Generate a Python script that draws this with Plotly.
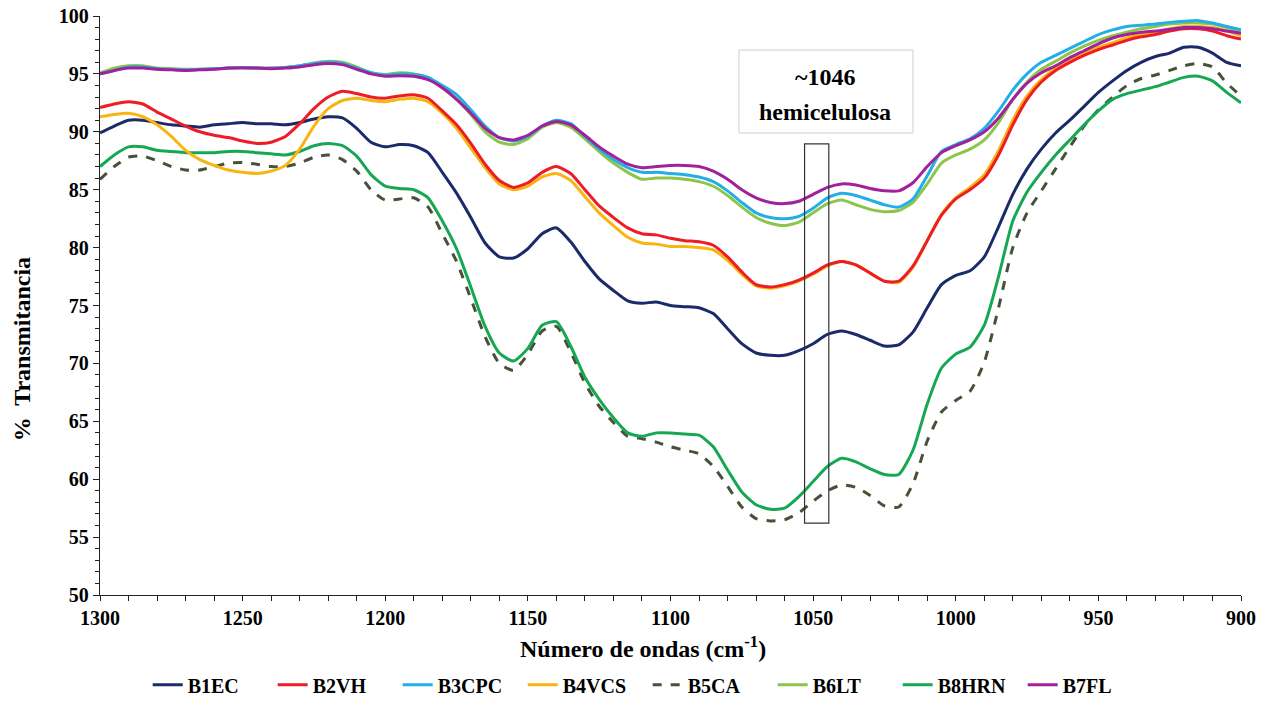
import plotly.graph_objects as go

wavenumber = list(range(1300, 895, -5))

B1EC = [89.9, 90.5, 91.0, 91.0, 90.8, 90.6, 90.5, 90.4, 90.6, 90.7, 90.8, 90.7, 90.7, 90.6, 90.8, 91.1, 91.3, 91.2, 90.3, 89.1,
        88.7, 88.9, 88.8, 88.2, 86.5, 84.7, 82.6, 80.4, 79.2, 79.1, 79.9, 81.2, 81.7, 80.5, 78.8, 77.3, 76.3, 75.4, 75.2, 75.3,
        75.0, 74.9, 74.8, 74.3, 73.0, 71.7, 70.9, 70.7, 70.7, 71.1, 71.7, 72.5, 72.8, 72.5, 72.0, 71.5, 71.6, 72.7, 74.8, 76.8,
        77.6, 78.0, 79.2, 81.8, 84.6, 86.8, 88.5, 89.9, 91.0, 92.2, 93.4, 94.4, 95.3, 96.0, 96.5, 96.8, 97.3, 97.3, 96.8, 96.0, 95.7]
B2VH = [92.1, 92.4, 92.6, 92.4, 91.7, 91.1, 90.5, 90.0, 89.7, 89.5, 89.2, 89.0, 89.1, 89.6, 90.7, 92.0, 93.0, 93.5, 93.3, 93.0,
        92.9, 93.1, 93.2, 92.9, 91.8, 90.6, 89.0, 87.2, 85.8, 85.2, 85.6, 86.5, 87.0, 86.4, 85.0, 83.6, 82.6, 81.7, 81.2, 81.1,
        80.8, 80.6, 80.5, 80.2, 79.2, 77.9, 76.8, 76.6, 76.8, 77.2, 77.8, 78.5, 78.8, 78.5, 77.8, 77.1, 77.1, 78.4, 80.6, 82.8,
        84.2, 85.0, 86.0, 88.0, 90.6, 92.8, 94.3, 95.3, 96.0, 96.6, 97.1, 97.5, 97.9, 98.2, 98.4, 98.7, 98.9, 98.9, 98.7, 98.3, 98.0]
B3CPC = [95.0, 95.3, 95.6, 95.6, 95.45, 95.4, 95.35, 95.4, 95.45, 95.5, 95.55, 95.5, 95.5, 95.55, 95.7, 95.9, 96.0, 95.9, 95.5, 95.1,
         94.9, 95.0, 94.95, 94.7, 94.0, 93.2, 91.9, 90.5, 89.5, 89.2, 89.6, 90.5, 91.0, 90.7, 89.6, 88.5, 87.6, 86.9, 86.5, 86.5,
         86.4, 86.3, 86.1, 85.7, 84.9, 83.9, 83.0, 82.6, 82.5, 82.7, 83.4, 84.3, 84.7, 84.5, 84.1, 83.7, 83.5, 84.2, 86.2, 88.3,
         88.9, 89.4, 90.3, 91.8, 93.6, 95.0, 96.0, 96.6, 97.2, 97.8, 98.4, 98.8, 99.1, 99.2, 99.3, 99.45, 99.55, 99.6, 99.4, 99.1, 98.8]
B4VCS = [91.3, 91.5, 91.6, 91.3, 90.6, 89.6, 88.4, 87.6, 87.1, 86.7, 86.5, 86.4, 86.6, 87.1, 88.5, 90.5, 92.0, 92.7, 92.9, 92.7,
         92.6, 92.8, 92.9, 92.6, 91.6, 90.3, 88.6, 86.9, 85.5, 85.0, 85.3, 86.1, 86.4, 85.8, 84.4, 83.0, 81.9, 80.9, 80.4, 80.3,
         80.1, 80.1, 80.0, 79.8, 78.9, 77.7, 76.7, 76.5, 76.7, 77.1, 77.7, 78.4, 78.8, 78.5, 77.8, 77.1, 77.0, 78.3, 80.6, 82.9,
         84.3, 85.2, 86.3, 88.4, 91.0, 93.1, 94.5, 95.5, 96.2, 96.8, 97.3, 97.7, 98.1, 98.4, 98.6, 98.9, 99.1, 99.1, 99.0, 98.7, 98.3]
B5CA = [85.9, 87.0, 87.8, 87.9, 87.5, 87.0, 86.7, 86.7, 87.0, 87.3, 87.35, 87.2, 87.0, 87.0, 87.3, 87.8, 88.0, 87.6, 86.6, 85.0,
        84.1, 84.2, 84.3, 83.5, 81.2, 78.8, 75.6, 72.3, 70.0, 69.4, 70.8, 72.8, 73.2, 71.0, 68.3, 66.3, 64.9, 63.7, 63.5, 63.2,
        62.8, 62.5, 62.2, 61.1, 59.4, 57.6, 56.6, 56.4, 56.5, 57.1, 58.1, 59.0, 59.5, 59.3, 58.6, 57.7, 57.6, 59.6, 63.3, 65.8,
        66.8, 67.6, 70.1, 74.8, 80.0, 83.0, 84.9, 86.8, 88.7, 90.5, 91.9, 93.0, 94.0, 94.6, 94.9, 95.3, 95.7, 95.9, 95.6, 94.2, 93.1]
B6LT = [95.1, 95.5, 95.7, 95.7, 95.5, 95.45, 95.4, 95.4, 95.45, 95.5, 95.55, 95.5, 95.5, 95.55, 95.7, 95.95, 96.1, 96.0, 95.6, 95.1,
        94.95, 95.1, 95.0, 94.7, 93.8, 92.8, 91.5, 90.0, 89.1, 88.9, 89.4, 90.4, 90.8, 90.4, 89.4, 88.3, 87.3, 86.5, 85.9, 86.0,
        86.0, 85.9, 85.7, 85.3, 84.5, 83.5, 82.6, 82.1, 81.9, 82.2, 83.0, 83.8, 84.1, 83.7, 83.3, 83.1, 83.2, 83.9, 85.5, 87.3,
        88.0, 88.5, 89.3, 90.8, 92.8, 94.3, 95.4, 96.1, 96.8, 97.4, 97.9, 98.3, 98.6, 98.9, 99.1, 99.3, 99.4, 99.4, 99.3, 99.0, 98.6]
B8HRN = [87.0, 88.0, 88.7, 88.7, 88.4, 88.3, 88.2, 88.2, 88.2, 88.3, 88.3, 88.2, 88.1, 88.0, 88.3, 88.8, 89.0, 88.8, 87.9, 86.3,
         85.3, 85.1, 85.0, 84.3, 82.3, 79.9, 76.6, 73.2, 70.9, 70.2, 71.3, 73.3, 73.6, 71.5, 68.8, 66.9, 65.3, 64.0, 63.7, 64.0,
         64.0, 63.9, 63.8, 62.8, 60.8, 58.9, 57.8, 57.4, 57.5, 58.5, 59.8, 61.1, 61.8, 61.5, 60.9, 60.4, 60.4, 62.5, 66.5, 69.6,
         70.8, 71.4, 73.3, 77.5, 82.3, 84.8, 86.5, 88.0, 89.3, 90.6, 91.8, 92.8, 93.3, 93.6, 93.9, 94.3, 94.7, 94.8, 94.4, 93.4, 92.5]
B7FL = [95.0, 95.3, 95.5, 95.5, 95.4, 95.35, 95.3, 95.35, 95.4, 95.5, 95.5, 95.5, 95.45, 95.5, 95.6, 95.8, 95.9, 95.8, 95.4, 95.0,
        94.8, 94.85, 94.8, 94.5, 93.8, 92.8, 91.6, 90.3, 89.5, 89.3, 89.7, 90.5, 90.9, 90.6, 89.7, 88.7, 87.9, 87.2, 86.9, 87.0,
        87.1, 87.1, 87.0, 86.6, 85.9, 85.0, 84.3, 83.9, 83.8, 84.0, 84.6, 85.2, 85.5, 85.4, 85.1, 84.9, 84.9, 85.6, 87.0, 88.2,
        88.8, 89.3, 90.0, 91.2, 92.8, 94.2, 95.1, 95.7, 96.4, 97.0, 97.6, 98.1, 98.4, 98.6, 98.7, 98.85, 99.0, 99.0, 98.9, 98.7, 98.5]

series_names = ["B1EC", "B2VH", "B3CPC", "B4VCS", "B5CA", "B6LT", "B8HRN", "B7FL"]
series_values = [B1EC, B2VH, B3CPC, B4VCS, B5CA, B6LT, B8HRN, B7FL]
series_colors = ["#1b2a68", "#ee1c25", "#22aee6", "#f7b512", "#465238", "#8dc54b", "#16a753", "#a3209c"]
series_dash = ["solid", "solid", "solid", "solid", "dash", "solid", "solid", "solid"]

x_ticks = [1300, 1250, 1200, 1150, 1100, 1050, 1000, 950, 900]
y_ticks = [50, 55, 60, 65, 70, 75, 80, 85, 90, 95, 100]

band_label = "~1046"
band_name = "hemicelulosa"

FONT = "Liberation Serif"
FONT2 = "Times New Roman"

fig = go.Figure()
draw_order = [0, 4, 6, 3, 1, 5, 2, 7]
for i in draw_order:
    fig.add_trace(go.Scatter(
        x=wavenumber, y=series_values[i], name="<b>" + series_names[i] + "</b>", mode="lines",
        line=dict(color=series_colors[i], width=3, dash=series_dash[i], shape="spline", smoothing=0.6),
        legendrank=i + 1,
    ))

fig.update_layout(
    width=1262, height=694,
    paper_bgcolor="white", plot_bgcolor="white",
    font=dict(family=FONT, color="black", size=20),
    margin=dict(l=92, r=29, t=8, b=107, autoexpand=False),
    showlegend=True,
    legend=dict(orientation="h", x=0.48, xanchor="center",
                y=-0.155, yanchor="middle", entrywidth=80,
                font=dict(family=FONT2, size=20, color="black"),
                traceorder="normal", bgcolor="rgba(0,0,0,0)"),
    xaxis=dict(range=[1300, 900], tickvals=x_ticks, ticks="outside", ticklen=5, tickwidth=1.3,
               tickcolor="#222", showline=True, linecolor="#222", linewidth=1.3, showgrid=False,
               zeroline=False, tickfont=dict(family=FONT, size=20, color="black"),
               ticktext=["<b>%d</b>" % v for v in x_ticks], automargin=False,
               minor=dict(dtick=10, ticks="outside", ticklen=5, tickwidth=1.2, tickcolor="#222", showgrid=False)),
    yaxis=dict(range=[50, 100], tickvals=y_ticks, ticks="outside", ticklen=6, tickwidth=1.3,
               tickcolor="#222", showline=True, linecolor="#222", linewidth=1.3, showgrid=False,
               zeroline=False, tickfont=dict(family=FONT, size=20, color="black"),
               ticktext=["<b>%d</b>" % v for v in y_ticks], automargin=False, ticklabeloverflow="allow",
               minor=dict(dtick=1, ticks="outside", ticklen=4, tickwidth=1.2, tickcolor="#222", showgrid=False)),
)

fig.add_shape(type="rect", xref="x", yref="y", x0=1076, x1=1015, y0=89.9, y1=97.06,
              line=dict(color="#cfcfcf", width=1), fillcolor="white", layer="above")
fig.add_annotation(x=1046, y=94.75, xref="x", yref="y", text="<b>" + band_label + "</b>", showarrow=False,
                   font=dict(family=FONT2, size=24, color="black"))
fig.add_annotation(x=1046, y=91.7, xref="x", yref="y", text="<b>" + band_name + "</b>", showarrow=False,
                   font=dict(family=FONT2, size=24, color="black"))
fig.add_shape(type="rect", xref="x", yref="y", x0=1053, x1=1044.5, y0=56.2, y1=88.95,
              line=dict(color="#333333", width=1.2), fillcolor="rgba(0,0,0,0)", layer="above")

fig.add_annotation(x=0.476, y=-0.09, xref="paper", yref="paper", yanchor="middle",
                   text="<b>Número de ondas (cm<sup>-1</sup>)</b>", showarrow=False,
                   font=dict(family=FONT2, size=24, color="black"))
fig.add_annotation(x=-0.068, y=0.425, xref="paper", yref="paper", xanchor="center",
                   text="<b>%  Transmitancia</b>", showarrow=False, textangle=-90,
                   font=dict(family=FONT2, size=24, color="black"))

fig.write_html("out.html")
